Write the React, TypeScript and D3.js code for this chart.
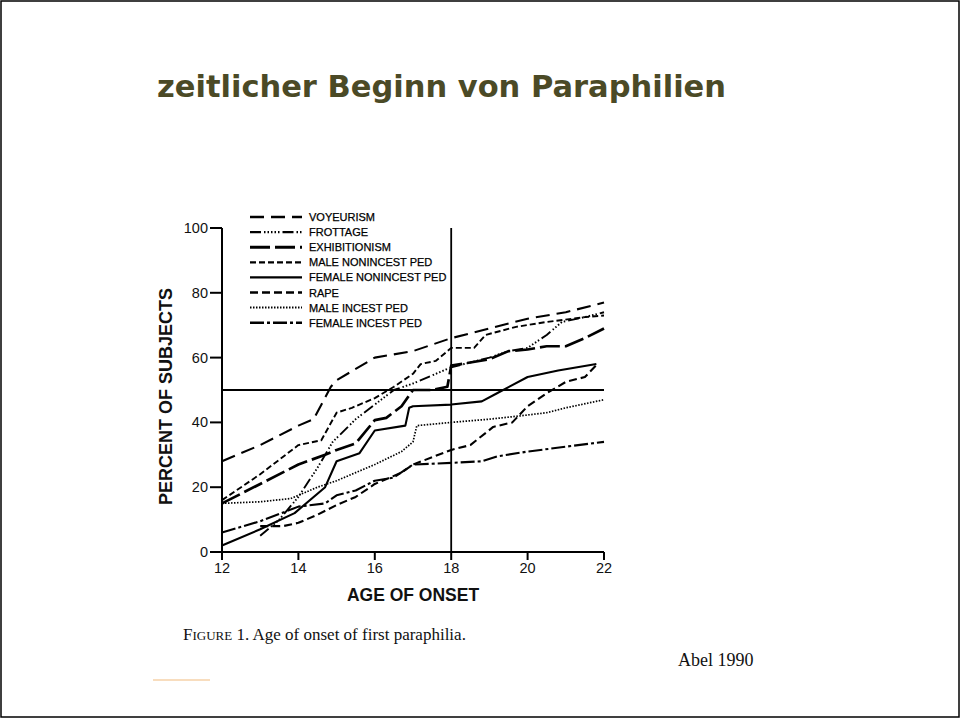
import React from 'react';
import * as d3 from 'd3';

type Pt = [number, number];

const xTicks = [12, 14, 16, 18, 20, 22];
const yTicks = [0, 20, 40, 60, 80, 100];

const voyeurism: Pt[] = [[12, 28], [13, 33], [14, 39], [14.4, 41], [14.85, 51], [15, 53], [16, 60], [17, 62], [18, 66], [19, 69], [20, 72], [21, 74], [22, 77]];
const frottage: Pt[] = [[13, 5], [13.5, 10], [14, 17], [14.5, 26], [14.9, 34], [15.5, 41], [16, 45.5], [16.5, 50], [17, 52], [17.5, 54.5], [18, 57], [18.5, 58.5], [19, 60], [19.5, 62], [20, 63], [20.5, 67], [20.9, 71], [21.5, 72.5], [22, 74]];
const exhibitionism: Pt[] = [[12, 15], [13, 21], [14, 27], [14.7, 30], [15, 31.5], [15.5, 33.5], [16, 40.7], [16.3, 41.4], [16.7, 45], [17, 50], [17.5, 50], [17.9, 51], [18, 57.5], [18.5, 58.5], [19, 59.5], [19.5, 62], [20, 62.5], [20.5, 63.5], [21, 63.5], [21.5, 66], [22, 69]];
const maleNonincest: Pt[] = [[12, 16], [13, 24], [14, 33], [14.6, 34.5], [15, 43], [15.4, 44.5], [16, 47.5], [16.5, 51], [17, 55], [17.2, 58], [17.6, 59], [18, 63], [18.6, 63], [18.9, 67], [19.7, 69.5], [20.5, 71], [21.5, 72.5], [22, 73]];
const femaleNonincest: Pt[] = [[12, 2], [13, 7], [13.9, 12], [14.7, 20], [15, 28], [15.6, 30.5], [16, 37.5], [16.8, 39], [16.9, 44.5], [17, 45], [18, 45.5], [18.8, 46.5], [19.2, 49], [20, 54], [20.8, 56], [21.8, 58]];
const rape: Pt[] = [[13, 8], [13.6, 8], [14, 9], [14.5, 11.5], [15, 14.5], [15.5, 17], [16, 21], [16.7, 24.5], [17, 27], [18, 31.5], [18.5, 33], [19.1, 38.6], [19.6, 40], [20, 45], [20.5, 49], [21, 52.5], [21.5, 54], [21.8, 57.7]];
const maleIncest: Pt[] = [[12, 15], [13, 15.5], [13.8, 16.5], [14.5, 20], [15, 22], [16, 27], [16.7, 31], [17, 34], [17.1, 39], [18, 40], [19, 41], [19.8, 42], [20.5, 43], [21, 44.5], [22, 47]];
const femaleIncest: Pt[] = [[12, 6], [13, 9.5], [14, 14], [14.7, 15], [15, 17.5], [15.5, 19], [16, 22], [16.5, 23], [17, 27], [18, 27.5], [18.8, 28], [19.2, 29.5], [20, 31], [21, 32.5], [22, 34]];

const seriesNames = ['VOYEURISM', 'FROTTAGE', 'EXHIBITIONISM', 'MALE NONINCEST PED', 'FEMALE NONINCEST PED', 'RAPE', 'MALE INCEST PED', 'FEMALE INCEST PED'];
const seriesData = [voyeurism, frottage, exhibitionism, maleNonincest, femaleNonincest, rape, maleIncest, femaleIncest];

const refAge = 18;
const refPct = 50;

const dashStyles = [
  { dash: '14,7', w: 2.1 },
  { dash: '11,3,1.5,2,1.5,2,1.5,2,1.5,2,1.5,3', w: 1.9 },
  { dash: '20,5', w: 2.7 },
  { dash: '6,3', w: 1.9 },
  { dash: '', w: 2.1 },
  { dash: '8,4', w: 2.1 },
  { dash: '1.5,1.5', w: 1.7 },
  { dash: '14,3,3,3', w: 2.1 },
];

export default function App() {
  const x = d3.scaleLinear().domain([12, 22]).range([222, 604]);
  const y = d3.scaleLinear().domain([0, 100]).range([552, 228]);
  const line = d3.line<Pt>().x(d => x(d[0])).y(d => y(d[1]));
  const sans = "'Liberation Sans', Arial, sans-serif";
  const serif = "'Liberation Serif', 'DejaVu Serif', serif";

  return (
    <svg width={961} height={720} style={{ position: 'absolute', left: 0, top: 0, background: '#fff' }}>
      <rect x={1} y={1} width={958} height={716} fill="#fff" stroke="#000" strokeWidth={1.5} />
      <text x={157} y={97} fontFamily="'DejaVu Sans', Verdana, sans-serif" fontWeight="bold" fontSize={30.5} fill="#4b4a26">
        zeitlicher Beginn von Paraphilien
      </text>

      {/* axes */}
      <line x1={x(12)} x2={x(12)} y1={y(100)} y2={y(0)} stroke="#000" strokeWidth={2} />
      <line x1={x(12)} x2={x(22)} y1={y(0)} y2={y(0)} stroke="#000" strokeWidth={2} />
      {yTicks.map(t => (
        <g key={'y' + t}>
          <line x1={x(12) - 12} x2={x(12)} y1={y(t)} y2={y(t)} stroke="#000" strokeWidth={2} />
          <text x={x(12) - 14} y={y(t) + 5} textAnchor="end" fontFamily={sans} fontSize={14.5} fill="#111">{t}</text>
        </g>
      ))}
      {xTicks.map(t => (
        <g key={'x' + t}>
          <line x1={x(t)} x2={x(t)} y1={y(0)} y2={y(0) + 8} stroke="#000" strokeWidth={2} />
          <text x={x(t)} y={y(0) + 21} textAnchor="middle" fontFamily={sans} fontSize={14.5} fill="#111">{t}</text>
        </g>
      ))}
      <text x={x(17)} y={601} textAnchor="middle" fontFamily={sans} fontWeight="bold" fontSize={17.5} fill="#111">AGE OF ONSET</text>
      <text transform={`translate(172,${y(48)}) rotate(-90)`} textAnchor="middle" fontFamily={sans} fontWeight="bold" fontSize={18} fill="#111">PERCENT OF SUBJECTS</text>

      {/* reference lines */}
      <line x1={x(12)} x2={x(22)} y1={y(refPct)} y2={y(refPct)} stroke="#000" strokeWidth={1.8} />
      <line x1={x(refAge)} x2={x(refAge)} y1={y(100)} y2={y(0)} stroke="#000" strokeWidth={1.8} />

      {/* series */}
      {seriesData.map((d, i) => (
        <path key={'s' + i} d={line(d) || ''} fill="none" stroke="#000" strokeWidth={dashStyles[i].w}
          strokeDasharray={dashStyles[i].dash || undefined} strokeLinejoin="round" />
      ))}

      {/* legend */}
      {seriesNames.map((n, i) => {
        const ly = 217 + i * 15.1;
        return (
          <g key={'l' + i}>
            <line x1={250} x2={302} y1={ly} y2={ly} stroke="#000" strokeWidth={dashStyles[i].w + 0.3}
              strokeDasharray={dashStyles[i].dash || undefined} />
            <text x={309} y={ly + 4} fontFamily={sans} fontSize={11} fill="#000" stroke="#000" strokeWidth={0.25}>{n}</text>
          </g>
        );
      })}

      {/* caption */}
      <text x={183} y={640} fontFamily={serif} fontSize={17} fill="#111">
        <tspan>F</tspan><tspan fontSize={13}>IGURE</tspan><tspan> 1. Age of onset of first paraphilia.</tspan>
      </text>
      <text x={678} y={666} fontFamily={serif} fontSize={18} fill="#111">Abel 1990</text>
      <line x1={153} x2={210} y1={680} y2={680} stroke="#f6d2a8" strokeWidth={1.5} />
    </svg>
  );
}
